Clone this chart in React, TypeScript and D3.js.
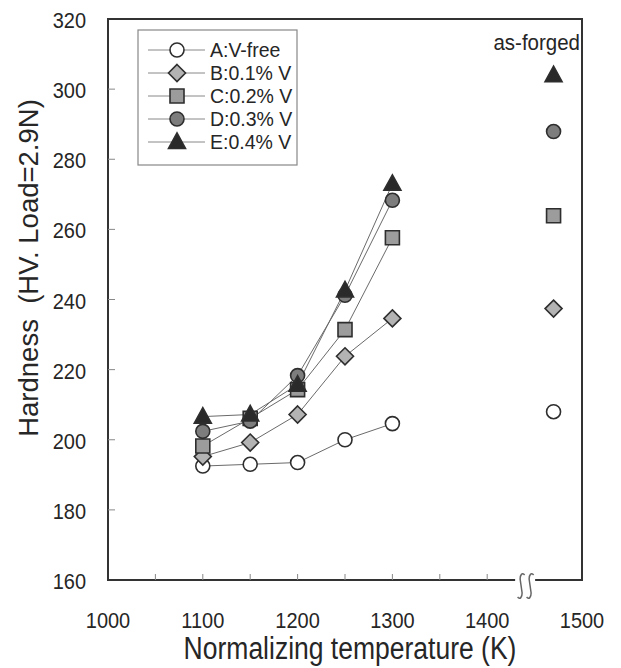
import * as d3 from "d3";

// normalizing temperatures (K)
const temps = [1100, 1150, 1200, 1250, 1300];
const asForgedTemp = 1470;

// hardness HV, one array per steel
const hvA = [192.5, 193, 193.5, 200, 204.6];
const hvB = [195.2, 199.2, 207.2, 223.8, 234.6];
const hvC = [198.2, 206.1, 214.3, 231.4, 257.6];
const hvD = [202.4, 205.3, 218.3, 241.2, 268.3];
const hvE = [206.6, 207.2, 215.7, 242.6, 273];

// as-forged hardness, order A..E
const asForged = [208, 237.4, 263.9, 287.9, 304];

const seriesNames = ["A:V-free", "B:0.1% V", "C:0.2% V", "D:0.3% V", "E:0.4% V"];
const xTickLabels = [1000, 1100, 1200, 1300, 1400, 1500];
const yTickLabels = [160, 180, 200, 220, 240, 260, 280, 300, 320];

const W = 621, H = 668;
const font = "'Liberation Sans', Arial, sans-serif";
const ink = "#262626";

// marker outlines, centred on 0,0
const circle = (r: number) => {
  const p = d3.path();
  p.arc(0, 0, r, 0, 2 * Math.PI);
  p.closePath();
  return p.toString();
};
const markers = [
  { d: circle(7), fill: "#ffffff" },
  { d: "M0,-8.5L8.5,0L0,8.5L-8.5,0Z", fill: "#b3b3b3" },
  { d: "M-7,-7H7V7H-7Z", fill: "#9c9c9c" },
  { d: circle(7), fill: "#7d7d7d" },
  { d: "M0,-9L8.5,6.5H-8.5Z", fill: "#2a2a2a" },
];

export default function App() {
  const x = d3.scaleLinear().domain([1000, 1500]).range([108, 582]);
  const y = d3.scaleLinear().domain([160, 320]).range([580, 19]);
  const series = [hvA, hvB, hvC, hvD, hvE];
  const line = d3.line<number>().x((_, i) => x(temps[i])).y((d) => y(d));

  const x0 = x(1000), x1 = x(1500), yTop = y(320), yBot = y(160);
  const bx = x(1440); // axis break
  const minorX = d3.range(1050, 1401, 50);
  const innerY = yTickLabels.slice(1, -1);

  const squiggle = (cx: number) => {
    const t = yBot - 5, b = yBot + 17;
    return `M${cx + 3.5},${t} C${cx + 1},${t - 3} ${cx - 1},${t} ${cx - 1},${t + 4} L${cx + 1},${b - 4} C${cx + 1},${b} ${cx - 1},${b + 3} ${cx - 3.5},${b}`;
  };

  const legendY = (i: number) => 50 + i * 23;

  return (
    <div style={{ position: "absolute", left: 0, top: 0 }}>
      <svg width={W} height={H} style={{ display: "block", background: "#fff" }}>
        {/* frame */}
        <path
          d={`M${bx - 10},${yBot} H${x0} V${yTop} H${x1} V${yBot} H${bx + 10}`}
          fill="none"
          stroke="#333"
          strokeWidth={2}
        />
        {/* axis break */}
        <path d={squiggle(bx - 4)} fill="none" stroke="#666" strokeWidth={1.5} />
        <path d={squiggle(bx + 5)} fill="none" stroke="#666" strokeWidth={1.5} />

        {/* ticks */}
        {minorX.map((t) => (
          <line key={"xt" + t} x1={x(t)} x2={x(t)} y1={yBot} y2={yBot - 6} stroke="#888" strokeWidth={1} />
        ))}
        {innerY.map((t) => (
          <line key={"yt" + t} x1={x0} x2={x0 + 7} y1={y(t)} y2={y(t)} stroke="#888" strokeWidth={1} />
        ))}

        {/* tick labels */}
        {xTickLabels.map((t) => (
          <text
            key={"xl" + t}
            transform={`translate(${x(t)},628) scale(1,1.12)`}
            textAnchor="middle"
            fontFamily={font}
            fontSize={20}
            fill={ink}
          >
            {t}
          </text>
        ))}
        {yTickLabels.map((t) => (
          <text
            key={"yl" + t}
            transform={`translate(86,${y(t) + 9}) scale(1,1.12)`}
            textAnchor="end"
            fontFamily={font}
            fontSize={20}
            fill={ink}
          >
            {t}
          </text>
        ))}

        {/* axis titles */}
        <text
          transform={`translate(${(x0 + x1) / 2 + 5},659) scale(1,1.2)`}
          textAnchor="middle"
          fontFamily={font}
          fontSize={26.5}
          fill={ink}
        >
          Normalizing temperature (K)
        </text>
        <text
          transform={`translate(38,268) rotate(-90)`}
          textAnchor="middle"
          fontFamily={font}
          fontSize={27.5}
          fill={ink}
          style={{ whiteSpace: "pre" }}
        >
          {"Hardness  (HV. Load=2.9N)"}
        </text>

        {/* series lines */}
        {series.map((s, k) => (
          <path key={"ln" + k} d={line(s) || ""} fill="none" stroke="#6a6a6a" strokeWidth={1} />
        ))}
        {/* markers */}
        {series.map((s, k) =>
          s.map((v, i) => (
            <path
              key={`m${k}-${i}`}
              d={markers[k].d}
              transform={`translate(${x(temps[i])},${y(v)})`}
              fill={markers[k].fill}
              stroke="#2e2e2e"
              strokeWidth={1.6}
            />
          ))
        )}
        {asForged.map((v, k) => (
          <path
            key={"af" + k}
            d={markers[k].d}
            transform={`translate(${x(asForgedTemp)},${y(v)})`}
            fill={markers[k].fill}
            stroke="#2e2e2e"
            strokeWidth={1.6}
          />
        ))}
        <text
          transform={`translate(${x1 - 2},50) scale(1,1.1)`}
          textAnchor="end"
          fontFamily={font}
          fontSize={20.5}
          fill={ink}
        >
          as-forged
        </text>

        {/* legend */}
        <rect x={138} y={30} width={159} height={135} fill="#fff" stroke="#888" strokeWidth={1.2} />
        {seriesNames.map((name, k) => (
          <g key={"lg" + k} transform={`translate(0,${legendY(k)})`}>
            <line x1={148} x2={205} y1={0} y2={0} stroke="#888" strokeWidth={1} />
            <path d={markers[k].d} transform="translate(177,0)" fill={markers[k].fill} stroke="#2e2e2e" strokeWidth={1.6} />
            <text x={210} y={7} fontFamily={font} fontSize={19.5} fill={ink}>
              {name}
            </text>
          </g>
        ))}
      </svg>
    </div>
  );
}
